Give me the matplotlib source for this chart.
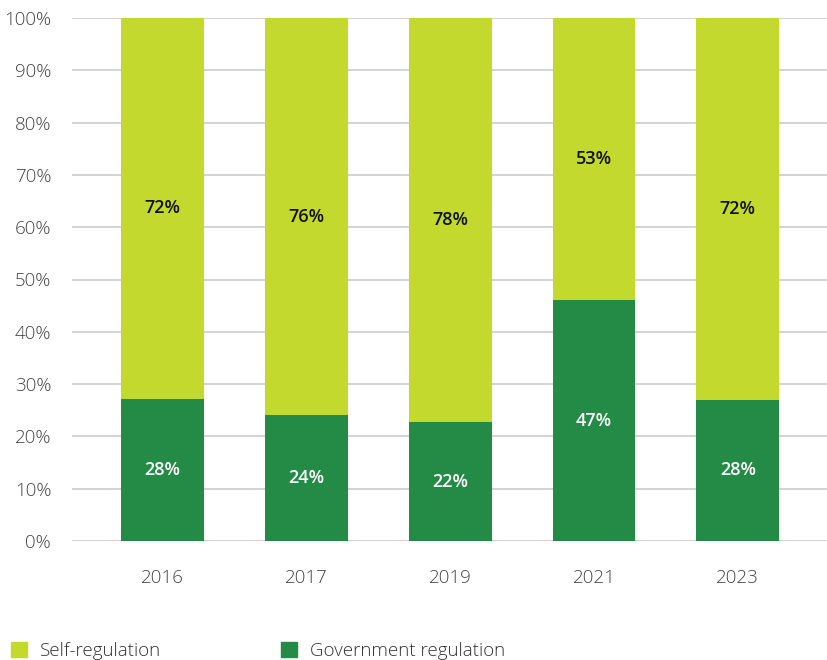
import matplotlib
matplotlib.use("Agg")
import matplotlib.pyplot as plt
from matplotlib.patches import Patch

years = ["2016", "2017", "2019", "2021", "2023"]
government = [27.2, 24.0, 22.7, 46.0, 27.0]
self_reg = [100 - g for g in government]
gov_labels = ["28%", "24%", "22%", "47%", "28%"]
self_labels = ["72%", "76%", "78%", "53%", "72%"]
yticks = [0, 10, 20, 30, 40, 50, 60, 70, 80, 90, 100]

LIGHT = "#c4d92e"
DARK = "#238b45"

plt.rcParams["font.family"] = ["Open Sans", "DejaVu Sans"]

fig = plt.figure(figsize=(8.27, 6.6), dpi=100)
ax = fig.add_axes([72 / 827, 1 - 541 / 660, 755 / 827, 523 / 660])

x = range(len(years))
ax.bar(x, government, width=0.576, color=DARK, zorder=3)
ax.bar(x, self_reg, width=0.576, bottom=government, color=LIGHT, zorder=3)

for i in x:
    ax.text(i, government[i] / 2, gov_labels[i], ha="center", va="center",
            color="white", fontsize=13, fontweight="semibold", zorder=4)
    ax.text(i, government[i] + self_reg[i] / 2, self_labels[i], ha="center", va="center",
            color="#111111", fontsize=13, fontweight="semibold", zorder=4)

ax.set_xlim(-0.628, 4.62)
ax.set_ylim(0, 100)
ax.set_yticks(yticks)
ax.set_yticklabels([f"{t}%" for t in yticks])
ax.set_xticks(list(x))
ax.set_xticklabels(years)
ax.tick_params(axis="both", length=0, labelsize=13.5, colors="#444444")
for lbl in ax.get_xticklabels() + ax.get_yticklabels():
    lbl.set_fontweight("light")
ax.tick_params(axis="y", pad=15)
ax.tick_params(axis="x", pad=20)
ax.yaxis.grid(True, color="#cccccc", linewidth=1.2, zorder=0)
for s in ax.spines.values():
    s.set_visible(False)

handles = [Patch(color=LIGHT, label="Self-regulation"),
           Patch(color=DARK, label="Government regulation")]
leg = fig.legend(handles=handles, loc="lower left", bbox_to_anchor=(11 / 827, 0.0), ncol=2,
                 frameon=False, fontsize=13.5, handlelength=0.85, handleheight=0.85,
                 handletextpad=0.7, columnspacing=6.4, labelcolor="#333333",
                 borderpad=0, borderaxespad=0)
for t in leg.get_texts():
    t.set_fontweight("light")

fig.savefig("out.png", dpi=100)
